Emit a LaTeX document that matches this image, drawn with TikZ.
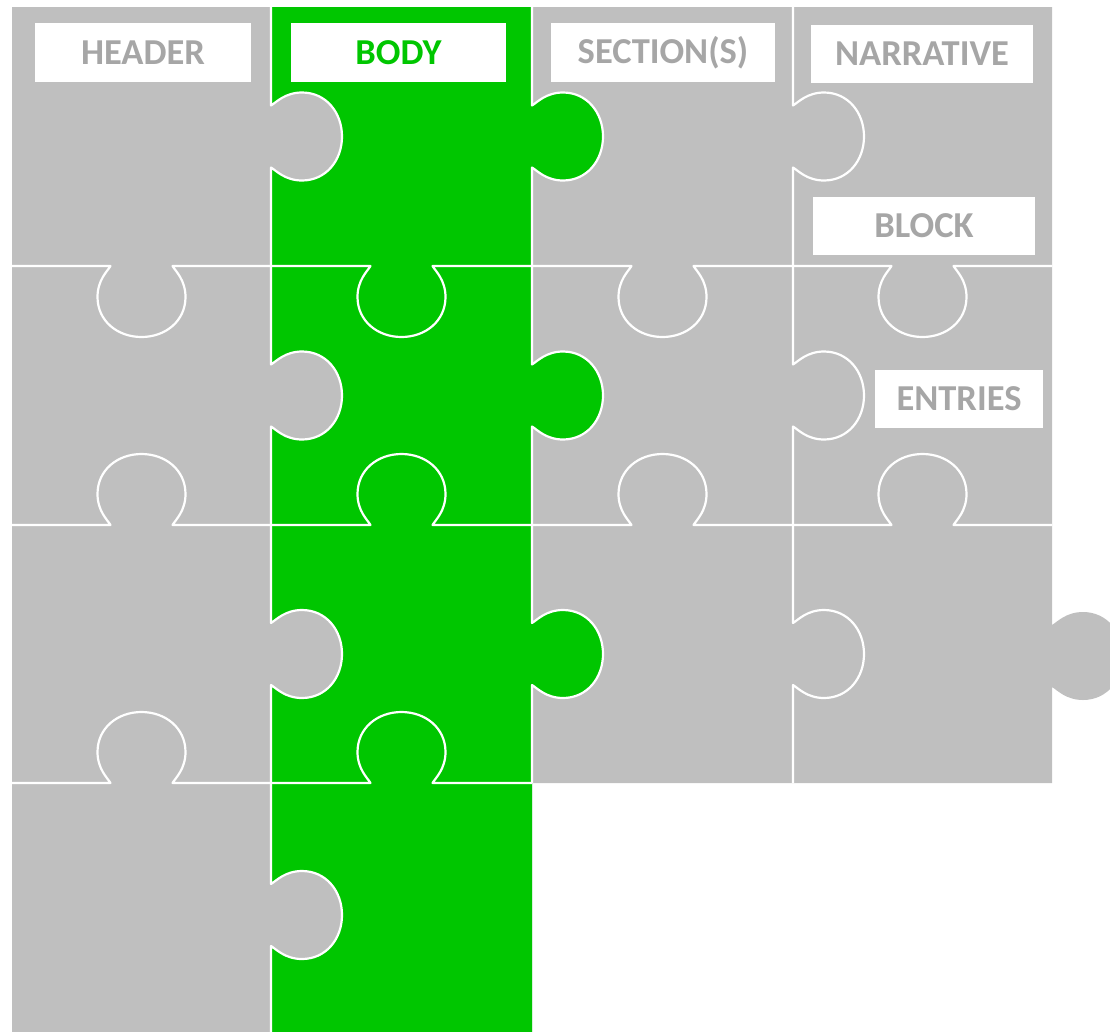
\documentclass[tikz,border=0pt]{standalone}
\usepackage{fontspec}
\setmainfont{Carlito}
\definecolor{pgrey}{HTML}{BFBFBF}
\definecolor{pgreen}{HTML}{00C600}
\definecolor{tgrey}{HTML}{A6A6A6}
% tab on a vertical line at x=#1, centre y=#2, outward direction sign #3 (x)
\newcommand\tabV[3]{-- ({#1},{#2-31}) .. controls ({#1+(#3)*5},{#2-34}) and ({#1+(#3)*14},{#2-44}) .. ({#1+(#3)*31},{#2-44}) .. controls ({#1+(#3)*55},{#2-44}) and ({#1+(#3)*71},{#2-24}) .. ({#1+(#3)*71},{#2}) .. controls ({#1+(#3)*71},{#2+24}) and ({#1+(#3)*55},{#2+44}) .. ({#1+(#3)*31},{#2+44}) .. controls ({#1+(#3)*14},{#2+44}) and ({#1+(#3)*5},{#2+34}) .. ({#1},{#2+31})}
% tab on a horizontal line at y=#1, centre x=#2, outward direction sign #3 (y, image down = +)
\newcommand\tabH[3]{-- ({#2-31},{#1}) .. controls ({#2-34},{#1+(#3)*5}) and ({#2-44},{#1+(#3)*14}) .. ({#2-44},{#1+(#3)*31}) .. controls ({#2-44},{#1+(#3)*55}) and ({#2-24},{#1+(#3)*71}) .. ({#2},{#1+(#3)*71}) .. controls ({#2+24},{#1+(#3)*71}) and ({#2+44},{#1+(#3)*55}) .. ({#2+44},{#1+(#3)*31}) .. controls ({#2+44},{#1+(#3)*14}) and ({#2+34},{#1+(#3)*5}) .. ({#2+31},{#1})}
\tikzset{
  seam/.style={draw=white,line width=2.2pt,line join=round},
  label/.style={fill=white,inner sep=0pt,font=\bfseries\fontsize{36.5}{40}\selectfont,text=tgrey},
}
\begin{document}
\begin{tikzpicture}[x=1pt,y=-1pt]
\useasboundingbox (0,0) rectangle (1110,1031);
\clip (0,0) rectangle (1110,1031);
% grey base
\fill[pgrey] (12,7) -- (1052,7) \tabV{1052}{656}{1} -- (1052,783) -- (532,783) -- (532,1040) -- (12,1040) -- cycle;
% green column
\fill[pgreen] (271,7) -- (532,7) \tabV{532}{136.5}{1} \tabV{532}{395.5}{1} \tabV{532}{654}{1} -- (532,1040) -- (271,1040) -- cycle;
% grey tabs entering the green column
\fill[pgrey] (270,100) \tabV{271}{136.5}{1} -- (270,175) -- cycle;
\fill[pgrey] (270,360) \tabV{271}{395.5}{1} -- (270,430) -- cycle;
\fill[pgrey] (270,620) \tabV{271}{654}{1} -- (270,690) -- cycle;
\fill[pgrey] (270,880) \tabV{271}{915}{1} -- (270,950) -- cycle;
% seams
\draw[seam] (271,7) \tabV{271}{136.5}{1} \tabV{271}{395.5}{1} \tabV{271}{654}{1} \tabV{271}{915}{1} -- (271,1040);
\draw[seam] (532,7) \tabV{532}{136.5}{1} \tabV{532}{395.5}{1} \tabV{532}{654}{1} -- (532,783);
\draw[seam] (793,7) \tabV{793}{136.5}{1} \tabV{793}{395.5}{1} \tabV{793}{654}{1} -- (793,783);
\draw[seam] (12,266) \tabH{266}{141.5}{1} \tabH{266}{401.5}{1} \tabH{266}{662.5}{1} \tabH{266}{922.5}{1} -- (1052,266);
\draw[seam] (12,525) \tabH{525}{141.5}{-1} \tabH{525}{401.5}{-1} \tabH{525}{662.5}{-1} \tabH{525}{922.5}{-1} -- (1052,525);
\draw[seam] (12,783) \tabH{783}{141.5}{-1} \tabH{783}{401.5}{-1} -- (532,783);
% labels
\node[label,minimum width=216pt,minimum height=59pt] (header) at (143,52.5) {HEADER};
\node[label,minimum width=215pt,minimum height=59pt,text=pgreen] (body) at (398.5,52.5) {BODY};
\node[label,minimum width=224pt,minimum height=59pt] (section) at (663,52.5) {SECTION(S)};
\node[label,minimum width=222pt,minimum height=58pt] (narrative) at (922,54) {NARRATIVE};
\node[label,minimum width=222pt,minimum height=58pt] (block) at (924,226) {BLOCK};
\node[label,minimum width=168pt,minimum height=58pt] (entries) at (959,399) {ENTRIES};
\end{tikzpicture}
\end{document}
